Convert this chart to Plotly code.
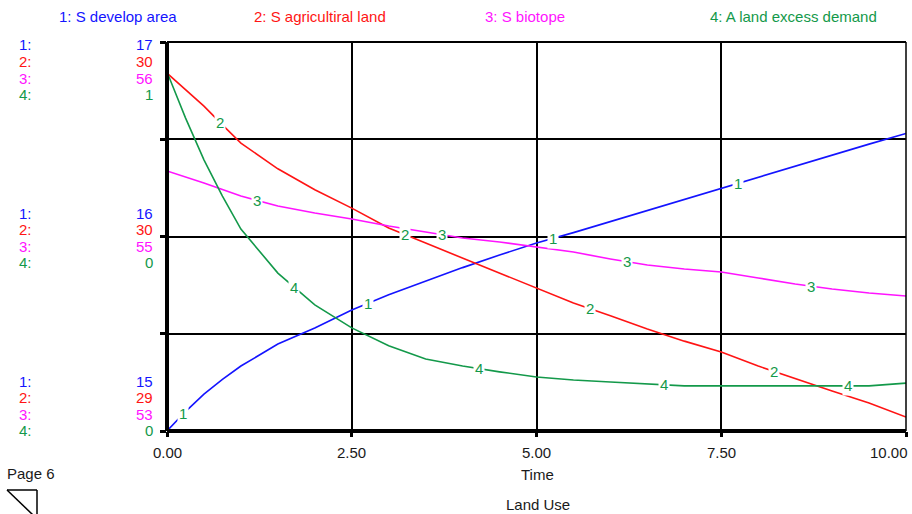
import numpy as np
import plotly.graph_objects as go

# ---- data ----
time = [0, 0.25, 0.5, 0.75, 1, 1.5, 2, 2.5, 3, 3.5, 4, 4.5, 5, 5.5, 6, 6.5, 7, 7.5, 8, 8.5, 9, 9.5, 10]
s_develop = [15.0, 15.10, 15.19, 15.265, 15.334, 15.447, 15.53, 15.622, 15.70, 15.77, 15.84, 15.905, 15.967,
             16.02, 16.077, 16.134, 16.191, 16.247, 16.306, 16.36, 16.42, 16.475, 16.53]
s_agri = [30.320, 30.278, 30.235, 30.187, 30.140, 30.074, 30.020, 29.973, 29.922, 29.883, 29.845, 29.806, 29.768,
          29.729, 29.696, 29.662, 29.631, 29.603, 29.567, 29.534, 29.503, 29.472, 29.436]
s_biotope = [55.405, 55.36, 55.313, 55.262, 55.212, 55.135, 55.081, 55.035, 54.981, 54.935, 54.888, 54.858, 54.819,
             54.780, 54.727, 54.680, 54.649, 54.626, 54.580, 54.534, 54.495, 54.464, 54.441]
a_excess = [0.923, 0.805, 0.697, 0.604, 0.519, 0.406, 0.324, 0.265, 0.219, 0.185, 0.167, 0.152, 0.139,
            0.131, 0.126, 0.121, 0.116, 0.116, 0.116, 0.116, 0.116, 0.116, 0.123]

series_names = ["1: S develop area", "2: S agricultiral land", "3: S biotope", "4: A land excess demand"]
series_colors = ["#1414ff", "#ff1414", "#ff14ff", "#13994a"]
axis_ranges = [[15, 17], [29.4, 30.4], [53.4, 56.4], [0, 1]]
scale_top = ["17", "30", "56", "1"]
scale_mid = ["16", "30", "55", "0"]
scale_bot = ["15", "29", "53", "0"]
x_ticks = [0, 2.5, 5, 7.5, 10]
x_ticklabels = ["0.00", "2.50", "5.00", "7.50", "10.00"]

# ---- layout geometry ----
W, H = 912, 514
L, R, T, B = 167, 906, 42, 431
PW, PH = R - L, B - T
FONT = "Liberation Sans, Arial, sans-serif"
FS = 15
LABEL_GREEN = "#13994a"
TXT = "#1a1a1a"

def px(x):
    return (x - L) / PW

def py(y):
    return (B - y) / PH

fig = go.Figure()
data = [s_develop, s_agri, s_biotope, a_excess]
yaxes = ["y", "y2", "y3", "y4"]
for i in range(4):
    fig.add_trace(go.Scatter(x=time, y=data[i], mode="lines", yaxis=yaxes[i],
                             line=dict(color=series_colors[i], width=1.6),
                             name=series_names[i], showlegend=False, hoverinfo="skip"))

annotations = []
# curve number labels with white gaps
for i in range(4):
    for k in range(4):
        t = 0.22 + 0.5 * i + 2.5 * k
        yv = float(np.interp(t, time, data[i]))
        annotations.append(dict(x=t, y=yv, xref="x", yref=yaxes[i], text=str(i + 1),
                                showarrow=False, bgcolor="white", borderpad=1,
                                xanchor="center", yanchor="middle",
                                font=dict(family=FONT, size=FS, color=LABEL_GREEN)))

# legend titles at top
title_x = [118, 320, 525, 793]
for i in range(4):
    annotations.append(dict(x=px(title_x[i]), y=py(17), xref="paper", yref="paper",
                            text=series_names[i], showarrow=False, xanchor="center", yanchor="middle",
                            font=dict(family=FONT, size=FS, color=series_colors[i])))

# scale labels on the left
blocks = [(45, scale_top), (213, scale_mid), (381, scale_bot)]
for y0, vals in blocks:
    for i in range(4):
        yy = y0 + i * 16.6
        annotations.append(dict(x=px(17), y=py(yy), xref="paper", yref="paper", text=f"{i+1}:",
                                showarrow=False, xanchor="left", yanchor="middle",
                                font=dict(family=FONT, size=FS, color=series_colors[i])))
        annotations.append(dict(x=px(155), y=py(yy), xref="paper", yref="paper", text=vals[i],
                                showarrow=False, xanchor="right", yanchor="middle",
                                font=dict(family=FONT, size=FS, color=series_colors[i])))

# x tick labels
for v, lab in zip(x_ticks, x_ticklabels):
    if v == x_ticks[-1]:
        annotations.append(dict(x=px(910), y=py(452), xref="paper", yref="paper", text=lab,
                                showarrow=False, xanchor="right", yanchor="middle",
                                font=dict(family=FONT, size=FS, color=TXT)))
    else:
        annotations.append(dict(x=v, y=py(452), xref="x", yref="paper", text=lab,
                                showarrow=False, xanchor="center", yanchor="middle",
                                font=dict(family=FONT, size=FS, color=TXT)))

annotations.append(dict(x=px(537), y=py(474), xref="paper", yref="paper", text="Time",
                        showarrow=False, xanchor="center", yanchor="middle",
                        font=dict(family=FONT, size=FS, color=TXT)))
annotations.append(dict(x=px(538), y=py(504), xref="paper", yref="paper", text="Land Use",
                        showarrow=False, xanchor="center", yanchor="middle",
                        font=dict(family=FONT, size=FS, color=TXT)))
annotations.append(dict(x=px(5), y=py(473), xref="paper", yref="paper", text="Page 6",
                        showarrow=False, xanchor="left", yanchor="middle",
                        font=dict(family=FONT, size=FS, color=TXT)))

shapes = [
    # thick left and bottom axes
    dict(type="line", xref="paper", yref="paper", x0=0, x1=0, y0=0, y1=1, line=dict(color="black", width=4)),
    dict(type="line", xref="paper", yref="paper", x0=0, x1=1, y0=0, y1=0, line=dict(color="black", width=4)),
    # top and right borders
    dict(type="line", xref="paper", yref="paper", x0=0, x1=1, y0=1, y1=1, line=dict(color="black", width=2)),
    dict(type="line", xref="paper", yref="paper", x0=1, x1=1, y0=0, y1=1, line=dict(color="black", width=1.5)),
    # page icon
    dict(type="line", xref="paper", yref="paper", x0=px(7), x1=px(37), y0=py(490), y1=py(490), line=dict(color="black", width=1.5)),
    dict(type="line", xref="paper", yref="paper", x0=px(37), x1=px(37), y0=py(490), y1=py(515), line=dict(color="black", width=1.5)),
    dict(type="line", xref="paper", yref="paper", x0=px(7), x1=px(33), y0=py(490), y1=py(515), line=dict(color="black", width=1.5)),
]

ylo, yhi = axis_ranges[0]
fig.update_layout(
    width=W, height=H, margin=dict(l=L, r=W - R, t=T, b=H - B),
    paper_bgcolor="white", plot_bgcolor="white",
    xaxis=dict(range=[0, 10], tickvals=x_ticks, showticklabels=False, showgrid=True,
               gridcolor="black", gridwidth=1.5, zeroline=False, showline=False,
               ticks="outside", ticklen=5, tickwidth=3, tickcolor="black"),
    yaxis=dict(range=axis_ranges[0], tickvals=[ylo + (yhi - ylo) * f for f in (0, 0.25, 0.5, 0.75, 1)],
               showticklabels=False, showgrid=True, gridcolor="black", gridwidth=1.5,
               zeroline=False, showline=False, ticks="outside", ticklen=6, tickwidth=3, tickcolor="black"),
    yaxis2=dict(range=axis_ranges[1], overlaying="y", visible=False),
    yaxis3=dict(range=axis_ranges[2], overlaying="y", visible=False),
    yaxis4=dict(range=axis_ranges[3], overlaying="y", visible=False),
    annotations=annotations, shapes=shapes, showlegend=False,
)

fig.write_html("out.html")
